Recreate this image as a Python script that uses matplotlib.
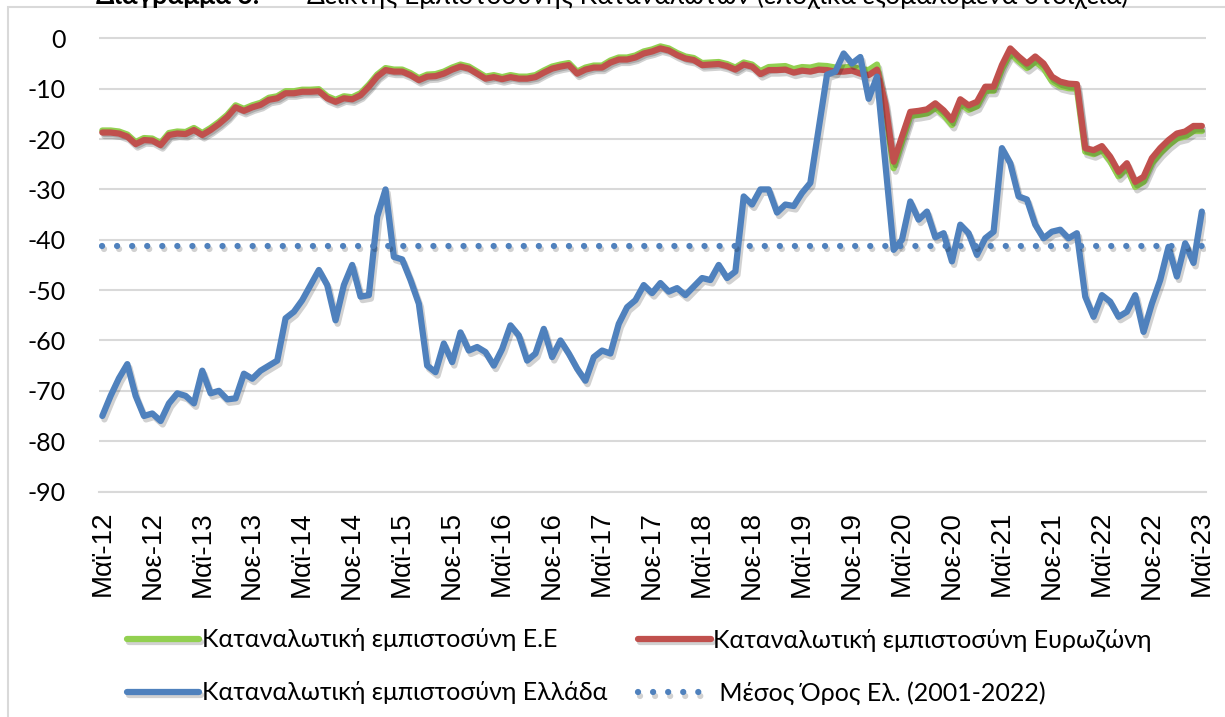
import numpy as np
import matplotlib.pyplot as plt
import matplotlib.patheffects as pe
from matplotlib.patches import Rectangle

# monthly data, May 2012 - May 2023
eu = [-18.3, -18.3, -18.5, -19.1, -20.6, -19.8, -19.9, -20.8, -18.8, -18.5,
      -18.6, -17.8, -18.8, -17.8, -16.6, -15.2, -13.3, -14.0, -13.3, -12.8,
      -11.8, -11.5, -10.5, -10.5, -10.2, -10.2, -10.1, -11.5, -12.2, -11.5,
      -11.7, -10.9, -9.2, -7.2, -5.9, -6.2, -6.2, -6.9, -7.9, -7.2,
      -7.1, -6.6, -5.8, -5.2, -5.6, -6.6, -7.6, -7.3, -7.7, -7.3,
      -7.6, -7.6, -7.3, -6.4, -5.6, -5.2, -4.9, -6.6, -5.8, -5.4,
      -5.4, -4.4, -3.8, -3.8, -3.4, -2.6, -2.2, -1.6, -2.0, -2.9,
      -3.6, -3.9, -4.9, -4.8, -4.7, -5.1, -5.8, -4.8, -5.2, -6.5,
      -5.7, -5.6, -5.5, -6.1, -5.7, -5.8, -5.4, -5.5, -5.8, -5.8,
      -5.6, -6.1, -6.3, -5.2, -14.0, -25.8, -20.5, -15.4, -15.2, -14.9,
      -13.8, -15.2, -17.2, -13.0, -14.2, -13.5, -10.4, -10.4, -6.1, -3.0,
      -4.5, -5.9, -4.6, -5.9, -8.5, -9.5, -9.9, -10.0, -22.5, -23.0,
      -22.2, -24.4, -27.4, -25.7, -29.5, -28.5, -24.8, -22.8, -21.2, -19.9,
      -19.5, -18.4, -18.4]

euro = [-18.7, -18.7, -18.9, -19.5, -21.0, -20.2, -20.3, -21.2, -19.2, -18.9,
        -19.0, -18.2, -19.2, -18.2, -17.0, -15.6, -13.7, -14.4, -13.7, -13.2,
        -12.2, -11.9, -10.9, -10.9, -10.6, -10.6, -10.5, -11.9, -12.6, -11.9,
        -12.1, -11.3, -9.6, -7.6, -6.3, -6.6, -6.6, -7.3, -8.3, -7.6,
        -7.5, -7.0, -6.2, -5.6, -6.0, -7.0, -8.0, -7.7, -8.1, -7.7,
        -8.0, -8.0, -7.7, -6.8, -6.0, -5.6, -5.3, -7.0, -6.2, -5.8,
        -5.8, -4.8, -4.2, -4.2, -3.8, -3.0, -2.6, -2.0, -2.4, -3.3,
        -4.0, -4.3, -5.3, -5.2, -5.1, -5.5, -6.2, -5.2, -5.6, -7.1,
        -6.3, -6.3, -6.2, -6.8, -6.4, -6.6, -6.2, -6.3, -6.6, -6.6,
        -6.4, -7.0, -7.3, -6.2, -13.0, -24.5, -19.5, -14.6, -14.4, -14.1,
        -12.9, -14.3, -16.2, -12.1, -13.3, -12.6, -9.6, -9.6, -5.3, -2.0,
        -3.6, -5.0, -3.6, -5.0, -7.6, -8.6, -9.0, -9.1, -21.8, -22.2,
        -21.4, -23.5, -26.5, -24.8, -28.5, -27.5, -23.8, -21.8, -20.2, -18.9,
        -18.5, -17.4, -17.4]

greece = [-75.0, -71.0, -67.5, -64.7, -71.0, -75.0, -74.5, -76.0, -72.5, -70.5,
          -71.0, -72.5, -66.0, -70.5, -70.0, -71.7, -71.5, -66.6, -67.6, -66.0,
          -65.0, -64.0, -55.6, -54.3, -52.0, -49.0, -46.0, -49.0, -56.0, -49.0,
          -45.0, -51.3, -51.0, -35.4, -30.0, -43.4, -43.9, -48.0, -52.7, -65.0,
          -66.3, -60.6, -64.3, -58.4, -62.0, -61.3, -62.3, -65.0, -61.7, -57.0,
          -59.0, -64.0, -62.6, -57.7, -63.3, -60.0, -62.6, -65.6, -68.0, -63.3,
          -62.0, -62.6, -56.7, -53.4, -52.0, -49.0, -50.6, -48.6, -50.3, -49.6,
          -51.0, -49.3, -47.6, -48.0, -45.0, -47.6, -46.3, -31.4, -33.0, -30.0,
          -30.0, -34.6, -33.0, -33.3, -30.7, -28.7, -18.0, -7.2, -6.6, -3.0,
          -5.0, -3.7, -12.0, -7.6, -24.8, -42.0, -40.0, -32.4, -36.0, -34.4,
          -39.5, -38.7, -44.3, -37.0, -38.7, -43.0, -39.7, -38.4, -21.8, -24.8,
          -31.4, -32.0, -37.0, -39.7, -38.4, -38.0, -39.7, -38.7, -51.3, -55.3,
          -51.0, -52.3, -55.3, -54.3, -51.0, -58.3, -52.7, -48.0, -41.4, -47.3,
          -40.7, -44.6, -34.4]

greece_mean = -41.2

tick_labels = ['Μαϊ-12', 'Νοε-12', 'Μαϊ-13', 'Νοε-13', 'Μαϊ-14', 'Νοε-14',
               'Μαϊ-15', 'Νοε-15', 'Μαϊ-16', 'Νοε-16', 'Μαϊ-17', 'Νοε-17',
               'Μαϊ-18', 'Νοε-18', 'Μαϊ-19', 'Νοε-19', 'Μαϊ-20', 'Νοε-20',
               'Μαϊ-21', 'Νοε-21', 'Μαϊ-22', 'Νοε-22', 'Μαϊ-23']

names = ['Καταναλωτική εμπιστοσύνη Ε.Ε',
         'Καταναλωτική εμπιστοσύνη Ευρωζώνη',
         'Καταναλωτική εμπιστοσύνη Ελλάδα',
         ' Μέσος Όρος Ελ. (2001-2022)']

font = ['Lato', 'DejaVu Sans']
plt.rcParams['font.family'] = font
plt.rcParams['axes.unicode_minus'] = False

fig = plt.figure(figsize=(12.25, 7.17), dpi=100)
ax = fig.add_axes([0.0808, 0.3145, 0.9037, 0.6355])

x = np.arange(len(greece))
shadow = [pe.SimpleLineShadow(offset=(1.5, -2.5), shadow_color='black', alpha=0.18), pe.Normal()]

l1, = ax.plot(x, eu, color='#92D050', lw=4.5, solid_capstyle='round', path_effects=shadow, label=names[0])
l2, = ax.plot(x, euro, color='#C0504D', lw=4.5, solid_capstyle='round', path_effects=shadow, label=names[1])
l3, = ax.plot(x, greece, color='#4F81BD', lw=4.5, solid_capstyle='round', path_effects=shadow, label=names[2])
l4, = ax.plot(x, [greece_mean] * len(x), color='#4F81BD', lw=4.5,
              linestyle=(0, (0.01, 2.4)), dash_capstyle='round', path_effects=shadow, label=names[3])

ax.set_xlim(-0.4, 132.5)
ax.set_ylim(-90, 0.5)
ax.set_yticks(np.arange(-90, 1, 10))
ax.set_xticks(x[::6])
ax.set_xticklabels(tick_labels, rotation=90, family=['Liberation Sans', 'DejaVu Sans'], fontsize=20)
ax.tick_params(axis='x', length=0, pad=14)
ax.tick_params(axis='y', length=0, pad=24, labelsize=18)
ax.grid(axis='y', color='#D9D9D9', lw=1.5)
ax.set_axisbelow(True)
for s in ['top', 'right', 'left']:
    ax.spines[s].set_visible(False)
ax.spines['bottom'].set_color('#D9D9D9')
ax.spines['bottom'].set_linewidth(1.5)

# column-wise fill: first column EU / Greece, second Eurozone / mean
fig.legend(handles=[l1, l3, l2, l4], loc='upper left', bbox_to_anchor=(0.085, 0.155),
           ncol=2, frameon=False, fontsize=18, handlelength=2.9, handletextpad=0.1,
           columnspacing=1.25, labelspacing=1.2)

# chart area border and (cut off) title
fig.add_artist(Rectangle((8 / 1225, -0.05), 1.1, 1 - 7 / 717 + 0.05, transform=fig.transFigure,
                         fill=False, edgecolor='#D9D9D9', lw=1.5))
fig.text(96 / 1225, 1 - 4 / 717, 'Διάγραμμα 6:', fontsize=19, fontweight='bold', va='baseline')
fig.text(307 / 1225, 1 - 4 / 717, 'Δείκτης Εμπιστοσύνης Καταναλωτών (εποχικά εξομαλυμένα στοιχεία)',
         fontsize=19, va='baseline')

fig.savefig('out.png', dpi=100)
